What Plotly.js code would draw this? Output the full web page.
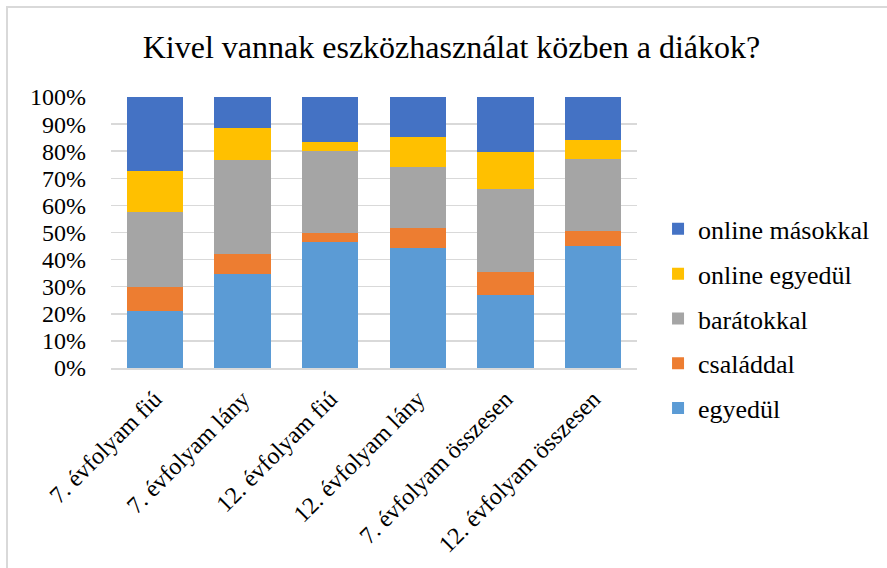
<!DOCTYPE html>
<html>
<head>
<meta charset="utf-8">
<script src="https://cdn.plot.ly/plotly-3.0.1.min.js"></script>
<style>
  html, body { margin: 0; padding: 0; background: #ffffff; }
  #frame { position: absolute; left: 6px; top: 6px; width: 900px; height: 600px; border: 2px solid #d9d9d9; box-sizing: border-box; }
  #chart { position: absolute; left: 0; top: 0; width: 887px; height: 568px; }
</style>
</head>
<body>
<div id="frame"></div>
<div id="chart"></div>
<script>
const categories = [
  "7. évfolyam fiú",
  "7. évfolyam lány",
  "12. évfolyam fiú",
  "12. évfolyam lány",
  "7. évfolyam összesen",
  "12. évfolyam összesen"
];
const egyedul        = [21.2, 34.6, 46.6, 44.2, 27.0, 45.2];
const csaladdal      = [8.8, 7.6, 3.4, 7.5, 8.3, 5.2];
const baratokkal     = [27.4, 34.6, 29.9, 22.3, 30.7, 26.6];
const onlineEgyedul  = [15.4, 11.6, 3.5, 11.1, 13.6, 7.2];
const onlineMasokkal = [27.2, 11.6, 16.6, 14.9, 20.4, 15.8];
const yTickValues = [0, 10, 20, 30, 40, 50, 60, 70, 80, 90, 100];

const FONT = "Liberation Serif, Times New Roman, serif";

const series = [
  { name: "egyedül", y: egyedul, color: "#5B9BD5" },
  { name: "családdal", y: csaladdal, color: "#ED7D31" },
  { name: "barátokkal", y: baratokkal, color: "#A5A5A5" },
  { name: "online egyedül", y: onlineEgyedul, color: "#FFC000" },
  { name: "online másokkal", y: onlineMasokkal, color: "#4472C4" }
];

const traces = series.map((s, i) => ({
  type: "bar",
  name: s.name,
  x: categories,
  y: s.y,
  legendgroup: "g" + i,
  legendrank: 100 - i,
  marker: { color: s.color, line: { width: 0 } },
  hoverinfo: "skip"
}));

const layout = {
  width: 887,
  height: 568,
  margin: { l: 111, r: 250, t: 97, b: 200 },
  paper_bgcolor: "rgba(0,0,0,0)",
  plot_bgcolor: "rgba(0,0,0,0)",
  barmode: "stack",
  bargap: 0.36,
  font: { family: FONT, color: "#000000", size: 24 },
  title: {
    text: "Kivel vannak eszközhasználat közben a diákok?",
    font: { family: FONT, size: 32, color: "#000000" },
    x: 0.509,
    xanchor: "center",
    xref: "container",
    y: 1 - 47 / 568,
    yanchor: "middle",
    yref: "container"
  },
  xaxis: {
    type: "category",
    tickangle: -45,
    showgrid: false,
    showline: true,
    linecolor: "#d9d9d9",
    linewidth: 1.5,
    ticks: "",
    ticklabelstandoff: 6,
    tickfont: { family: FONT, size: 24, color: "#000000" },
    automargin: false
  },
  yaxis: {
    range: [0, 100],
    tickvals: yTickValues,
    ticktext: yTickValues.map(v => v + "%"),
    showgrid: true,
    gridcolor: "#d9d9d9",
    gridwidth: 1.5,
    zeroline: false,
    showline: false,
    ticks: "",
    ticklabelstandoff: 24,
    tickfont: { family: FONT, size: 24, color: "#000000" },
    automargin: false,
    fixedrange: true
  },
  legend: {
    x: 1.04,
    xanchor: "left",
    y: 0.181,
    yanchor: "middle",
    traceorder: "grouped",
    tracegroupgap: 8,
    font: { family: FONT, size: 26, color: "#000000" },
    bgcolor: "rgba(0,0,0,0)"
  },
  showlegend: true
};

Plotly.newPlot("chart", traces, layout, { displayModeBar: false, staticPlot: true });
</script>
</body>
</html>
